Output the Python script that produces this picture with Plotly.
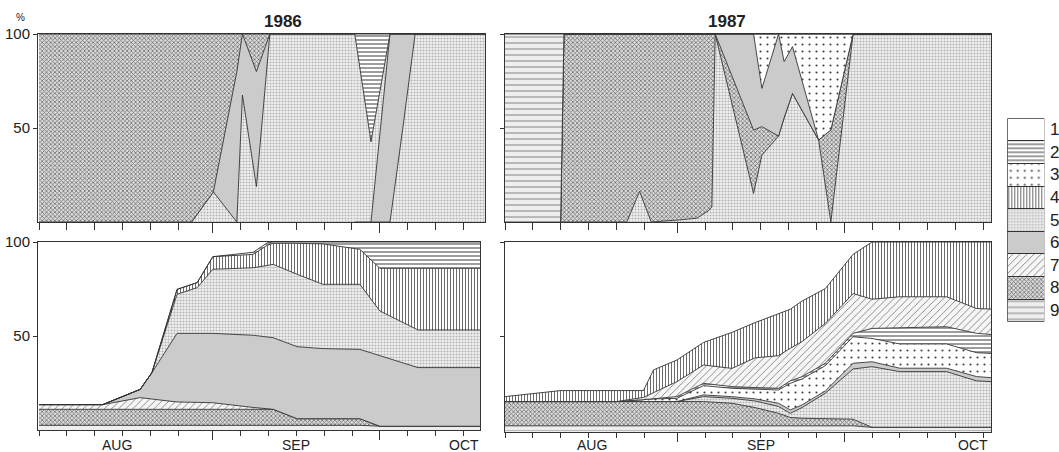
import plotly.graph_objects as go

# ---------------- DATA (days counted from 1 August) ----------------
# 1986, upper panel (composition, %), two sampling phases
t86a_days = [0, 27.3, 31.2, 35.4, 36.4, 38.9, 41.3, 56.5]
t86a_c5 = [0, 0, 16, 0, 67.5, 18.8, 100, 100]
t86a_c6 = [0, 0, 0, 80, 32.5, 61.2, 0, 0]
t86a_c8 = [100, 100, 84, 20, 0, 20, 0, 0]

t86b_days = [56.5, 59.4, 62.8, 65.1, 67.3, 79.8]
t86b_c5_low = [0, 0, 0, 50, 100, 100]
t86b_c6 = [0, 0, 100, 50, 0, 0]
t86b_c5_up = [100, 42.7, 0, 0, 0, 0]
t86b_c2 = [0, 57.3, 0, 0, 0, 0]

# 1987, upper panel (composition, %)
t87_days = [0, 10.0, 10.6, 21.9, 24.2, 26.3, 30.9, 34.5, 36.6, 37.2, 37.8,
            44.7, 46.2, 49.2, 50.2, 51.7, 56.4, 58.6, 62.6, 87.4]
t87_c5 = [0, 0, 0, 0, 16.3, 0, 1, 2, 6, 8, 100, 15.2, 35.6, 45.7, 55.4, 68.4, 43.6, 0, 100, 100]
t87_c8 = [0, 0, 100, 100, 83.7, 100, 99, 98, 94, 92, 0, 33.7, 15.1, 0, 0, 0, 0, 49, 0, 0]
t87_c6 = [0, 0, 0, 0, 0, 0, 0, 0, 0, 0, 0, 51.1, 20.4, 54.3, 29.9, 24.9, 0, 0, 0, 0]
t87_c3 = [0, 0, 0, 0, 0, 0, 0, 0, 0, 0, 0, 0, 28.9, 0, 14.7, 6.7, 56.4, 51, 0, 0]
t87_c9 = [100, 100, 0, 0, 0, 0, 0, 0, 0, 0, 0, 0, 0, 0, 0, 0, 0, 0, 0, 0]

# 1986, lower panel (% per category)
b86_days = [0, 11.4, 18.1, 20.2, 24.7, 28.3, 31.1, 38.3, 40.8, 41.9, 46.2, 50.8, 57.4, 61.0, 67.8, 78.9]
b86_c9 = [2.5, 2.5, 2.5, 2.5, 2.5, 2.5, 2.5, 2.5, 2.5, 2.5, 2.5, 2.5, 2.5, 2.0, 2.0, 2.0]
b86_c8 = [8.5, 8.5, 8.5, 8.5, 8.5, 8.5, 8.5, 8.5, 8.5, 8.5, 3.5, 3.5, 3.5, 0, 0, 0]
b86_c7 = [2.5, 2.5, 6.2, 5.5, 3.9, 3.7, 3.5, 1.0, 0.3, 0, 0, 0, 0, 0, 0, 0]
b86_c6 = [0, 0, 4.4, 14.0, 36.5, 36.7, 36.9, 38.4, 38.3, 38.1, 38.3, 37.3, 36.9, 37.4, 31.2, 31.2]
b86_c5 = [0, 0, 0, 0, 20.8, 24.3, 34.1, 35.9, 37.9, 39.0, 38.5, 34.2, 34.6, 23.9, 20.0, 20.0]
b86_c4 = [0, 0, 0, 0, 2.6, 2.7, 6.7, 7.1, 10.7, 11.2, 16.5, 21.5, 18.6, 22.7, 32.8, 32.8]
b86_c2 = [0, 0, 0, 0, 0, 0, 0, 1.1, 1.3, 0.7, 0.7, 1.0, 3.9, 14.0, 14.0, 14.0]

# 1987, lower panel (% per category)
b87_days = [0, 10.0, 20.1, 24.9, 26.7, 30.9, 35.7, 40.8, 45.0, 49.2, 51.3, 53.4, 57.6, 62.6,
            66.0, 71.0, 79.4, 84.8, 87.4]
b87_c9 = [3, 3, 3, 3, 3, 3, 3, 3, 3, 3, 3, 3, 3, 3, 2.2, 2.2, 2.2, 2.2, 2.2]
b87_c8 = [12.8, 12.8, 12.8, 12.8, 12.8, 12.8, 12.8, 11.9, 9.6, 6.6, 4.4, 4.0, 3.7, 3.5, 0, 0, 0, 0, 0]
b87_c5 = [0, 0, 0, 0, 0, 0, 2.6, 2.6, 3.5, 3.6, 2.2, 5.6, 13.5, 26.5, 32.0, 29.4, 29.4, 24.5, 24.1]
b87_c6 = [0, 0, 0, 0, 0, 0, 0.9, 0.9, 1.1, 1.7, 1.8, 1.4, 1.2, 3.0, 2.6, 1.8, 1.8, 2.3, 2.1]
b87_c3 = [0, 0, 0, 1.0, 1.4, 1.7, 4.9, 4.4, 5.3, 7.0, 14.0, 13.7, 13.3, 14.0, 12.3, 12.8, 12.8, 12.6, 12.8]
b87_c2 = [0, 0, 0, 0, 0, 0.9, 1.2, 0.9, 0.7, 0.9, 1.3, 1.2, 1.3, 1.8, 5.3, 8.5, 9.1, 10.2, 10.0]
b87_c7 = [0, 0, 0, 1.2, 3.3, 7.9, 9.7, 9.6, 15.7, 17.2, 17.2, 18.5, 21.0, 21.0, 15.4, 16.4, 15.8, 13.1, 13.4]
b87_c4 = [2.6, 5.8, 5.8, 3.6, 12.0, 11.4, 11.9, 19.0, 18.6, 22.3, 20.6, 21.4, 18.4, 20.7, 30.2, 28.9, 28.9, 35.1, 35.4]

legend_cats = ["1", "2", "3", "4", "5", "6", "7", "8", "9"]
month_labels = ["AUG", "SEP", "OCT"]
major_days = [31, 61]            # 1 Sep, 1 Oct
minor_days = [0, 5, 10, 15, 20, 25, 36, 41, 46, 51, 56, 66, 71, 76, 81, 86]

# ---------------- STYLES ----------------
STYLE = {
    "1": dict(shape="", fg="#333333", bg="#ffffff", size=6, sol=0.2),
    "2": dict(shape="-", fg="#505050", bg="#ffffff", size=4, sol=0.28),
    "3": dict(shape=".", fg="#404040", bg="#ffffff", size=7, sol=0.07),
    "4": dict(shape="|", fg="#5a5a5a", bg="#ffffff", size=3, sol=0.3),
    "5": dict(shape=".", fg="#b4b4b4", bg="#f2f2f2", size=3, sol=0.4),
    "6": dict(shape="", fg="#cbcbcb", bg="#cbcbcb", size=6, sol=0.2),
    "7": dict(shape="/", fg="#606060", bg="#f6f6f6", size=5, sol=0.14),
    "8": dict(shape="x", fg="#707070", bg="#dadada", size=3, sol=0.45),
    "9": dict(shape="-", fg="#707070", bg="#eeeeee", size=6, sol=0.14),
}
LINE = dict(color="#333333", width=0.9)
FONT = "Liberation Sans, Arial, sans-serif"
TXT = "#222222"

fig = go.Figure()


def add_stack(days, layers, xa, ya, group):
    for cat, vals in layers:
        s = STYLE[cat]
        fp = dict(shape=s["shape"], fgcolor=s["fg"], bgcolor=s["bg"], size=s["size"],
                  solidity=s["sol"], fillmode="replace")
        fig.add_trace(go.Scatter(
            x=days, y=vals, mode="lines", stackgroup=group, line=LINE,
            fillcolor=s["bg"], fillpattern=fp, xaxis=xa, yaxis=ya,
            showlegend=False, hoverinfo="skip"))


add_stack(t86a_days, [("5", t86a_c5), ("6", t86a_c6), ("8", t86a_c8)], "x", "y", "t86a")
add_stack(t86b_days, [("5", t86b_c5_low), ("6", t86b_c6), ("5", t86b_c5_up), ("2", t86b_c2)],
          "x", "y", "t86b")
add_stack(t87_days, [("5", t87_c5), ("8", t87_c8), ("6", t87_c6), ("3", t87_c3), ("9", t87_c9)],
          "x2", "y2", "t87")
add_stack(b86_days, [("9", b86_c9), ("8", b86_c8), ("7", b86_c7), ("6", b86_c6), ("5", b86_c5),
                     ("4", b86_c4), ("2", b86_c2)], "x3", "y3", "b86")
add_stack(b87_days, [("9", b87_c9), ("8", b87_c8), ("5", b87_c5), ("6", b87_c6), ("3", b87_c3),
                     ("2", b87_c2), ("7", b87_c7), ("4", b87_c4)], "x4", "y4", "b87")

# legend column (stacked bar, 9 at bottom)
for cat in reversed(legend_cats):
    s = STYLE[cat]
    fig.add_trace(go.Bar(
        x=[0], y=[1], width=1, xaxis="x5", yaxis="y5", showlegend=False, hoverinfo="skip",
        marker=dict(color=s["bg"], line=dict(color="#333333", width=1),
                    pattern=dict(shape=s["shape"], fgcolor=s["fg"], bgcolor=s["bg"],
                                 size=s["size"], solidity=s["sol"], fillmode="replace"))))

W, H = 1059, 452


def px(x):
    return x / W


def py(y):
    return (H - y) / H


def xax(x0, x1, rng, anchor, major_len, minor_len):
    return dict(domain=[px(x0), px(x1)], range=rng, anchor=anchor, showgrid=False,
                zeroline=False, showline=True, linecolor="#333333", linewidth=1, mirror=True,
                tickmode="array", tickvals=major_days, ticktext=["", ""], ticks="outside",
                ticklen=major_len, tickwidth=1, tickcolor="#333333", showticklabels=False,
                minor=dict(tickmode="array", tickvals=minor_days, ticks="outside",
                           ticklen=minor_len, tickwidth=1, tickcolor="#333333", showgrid=False),
                automargin=False, fixedrange=True)


def yax(y0, y1, anchor, labels):
    return dict(domain=[py(y1), py(y0)], range=[0, 100], anchor=anchor, showgrid=False,
                zeroline=False, showline=True, linecolor="#333333", linewidth=1, mirror=True,
                tickmode="array", tickvals=[50, 100], ticktext=["50", "100"], ticks="outside",
                ticklen=4, tickwidth=1, tickcolor="#333333", showticklabels=labels,
                tickfont=dict(size=15, color=TXT, family=FONT), automargin=False,
                fixedrange=True)


r86 = [-0.18, 79.8]
r87 = [0, 87.4]
fig.update_layout(
    width=W, height=H, autosize=False,
    margin=dict(l=0, r=0, t=0, b=0, pad=0, autoexpand=False),
    paper_bgcolor="white", plot_bgcolor="white", barmode="stack", showlegend=False,
    font=dict(family=FONT, color=TXT),
    xaxis=xax(38, 485, r86, "y", 10, 7),
    yaxis=yax(34, 222, "x", True),
    xaxis2=xax(505, 991, r87, "y2", 10, 7),
    yaxis2=yax(34, 222, "x2", False),
    xaxis3=xax(38, 480, [-0.18, 78.9], "y3", 9, 5),
    yaxis3=yax(242, 430, "x3", True),
    xaxis4=xax(505, 991, r87, "y4", 9, 5),
    yaxis4=yax(242, 431.5, "x4", False),
    xaxis5=dict(domain=[px(1007.3), px(1044.3)], range=[-0.5, 0.5], anchor="y5", visible=False,
                automargin=False, fixedrange=True),
    yaxis5=dict(domain=[py(321.7), py(118.3)], range=[0, 9], anchor="x5", visible=False,
                automargin=False, fixedrange=True),
)

ann = []
ann.append(dict(text="<b>1986</b>", x=px(261.5), y=py(21), xref="paper", yref="paper",
                yanchor="middle", showarrow=False, font=dict(size=17, color=TXT, family=FONT)))
ann.append(dict(text="<b>1987</b>", x=px(748), y=py(21), xref="paper", yref="paper",
                yanchor="middle", showarrow=False, font=dict(size=17, color=TXT, family=FONT)))
ann.append(dict(text="%", x=px(14), y=py(17), xref="paper", yref="paper", yanchor="middle",
                showarrow=False, font=dict(size=10, color=TXT, family=FONT)))
for xa, pos in (("x3", [14, 46, 76]), ("x4", [15.6, 46, 84.2])):
    for lab, d in zip(month_labels, pos):
        ann.append(dict(text=lab, x=d, y=py(445), xref=xa, yref="paper", yanchor="middle",
                        showarrow=False, font=dict(size=14, color=TXT, family=FONT)))
for i, cat in enumerate(legend_cats):
    ann.append(dict(text=cat, x=px(1048), y=8.5 - i, xref="paper", yref="y5", xanchor="left",
                    yanchor="middle", showarrow=False,
                    font=dict(size=17, color=TXT, family=FONT)))
fig.update_layout(annotations=ann)

fig.write_html("out.html")
